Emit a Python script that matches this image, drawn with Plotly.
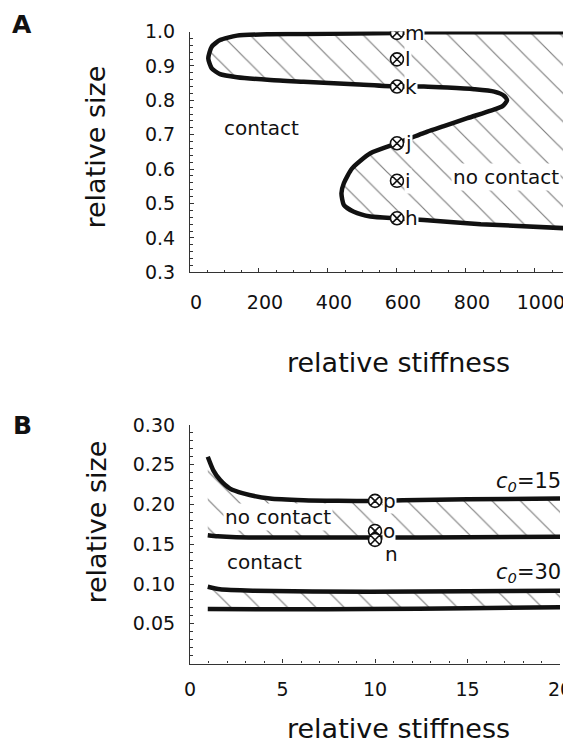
import plotly.graph_objects as go

# ---------------- Panel A data ----------------
stiff_A = [1090, 900, 688, 600, 475, 329, 233, 136, 87, 63, 53, 63, 87, 136, 233, 329, 475, 600,
           678, 746, 824, 882, 911, 919, 906, 872, 804, 736, 688, 600, 523, 470, 446, 439, 446,
           475, 523, 600, 678, 843, 1090]
size_A = [0.998, 0.998, 0.998, 0.996, 0.994, 0.993, 0.992, 0.988, 0.975, 0.956, 0.922, 0.893,
          0.876, 0.867, 0.859, 0.854, 0.847, 0.840, 0.840, 0.837, 0.832, 0.825, 0.8125, 0.800,
          0.783, 0.770, 0.748, 0.725, 0.709, 0.675, 0.646, 0.602, 0.559, 0.530, 0.496, 0.476,
          0.462, 0.457, 0.452, 0.440, 0.428]
pts_A_x = [600, 600, 600, 600, 600, 600]
pts_A_y = [0.996, 0.919, 0.840, 0.675, 0.566, 0.457]
pts_A_lbl = ["m", "l", "k", "j", "i", "h"]

# ---------------- Panel B data ----------------
b15_up_x = [0.96, 1.26, 1.62, 2.16, 2.88, 4.32, 6.13, 8.0, 10.0, 11.5, 15.0, 20.0]
b15_up_y = [0.260, 0.243, 0.231, 0.220, 0.214, 0.2075, 0.2054, 0.2047, 0.2045, 0.2054, 0.2065, 0.2075]
b15_lo_x = [0.96, 1.5, 2.5, 5.0, 10.0, 15.0, 20.0]
b15_lo_y = [0.1614, 0.1600, 0.1588, 0.1585, 0.1585, 0.1588, 0.1593]
b30_up_x = [0.96, 1.62, 3.4, 9.7, 15.0, 20.0]
b30_up_y = [0.0965, 0.0933, 0.0916, 0.0902, 0.0908, 0.0915]
b30_lo_x = [0.96, 5.0, 9.7, 15.0, 20.0]
b30_lo_y = [0.0685, 0.0683, 0.0685, 0.0695, 0.0706]
pts_B_x = [10, 10, 10]
pts_B_y = [0.2045, 0.1667, 0.1555]
pts_B_lbl = ["p", "o", "n"]

FONT = "DejaVu Sans"
INK = "#111"
W, H = 571, 743
OFF = 8  # page body margin
hatch = dict(shape="\\", size=20, solidity=0.06, fgcolor="#000", bgcolor="rgba(255,255,255,0)")


def fx(xp):
    return (xp - OFF) / W


def fy(yp):
    return 1 - (yp - OFF) / H


fig = go.Figure()

# Panel A hatch + curve
fig.add_trace(go.Scatter(x=stiff_A, y=size_A, mode="lines", fill="toself",
                         fillcolor="rgba(255,255,255,0)", fillpattern=hatch,
                         line=dict(width=0, shape="spline", smoothing=0.6),
                         xaxis="x", yaxis="y", hoverinfo="skip", showlegend=False))
fig.add_trace(go.Scatter(x=stiff_A, y=size_A, mode="lines",
                         line=dict(color=INK, width=4.5, shape="spline", smoothing=0.6),
                         xaxis="x", yaxis="y", hoverinfo="skip", showlegend=False))
fig.add_trace(go.Scatter(x=pts_A_x, y=pts_A_y, mode="markers",
                         marker=dict(symbol="circle-x", size=13, color="white",
                                     line=dict(color=INK, width=1.6)),
                         xaxis="x", yaxis="y", hoverinfo="skip", showlegend=False))

# Panel B hatch bands
fig.add_trace(go.Scatter(x=b15_up_x + b15_lo_x[::-1], y=b15_up_y + b15_lo_y[::-1], mode="lines",
                         fill="toself", fillcolor="rgba(255,255,255,0)", fillpattern=hatch,
                         line=dict(width=0), xaxis="x2", yaxis="y2", hoverinfo="skip", showlegend=False))
fig.add_trace(go.Scatter(x=b30_up_x + b30_lo_x[::-1], y=b30_up_y + b30_lo_y[::-1], mode="lines",
                         fill="toself", fillcolor="rgba(255,255,255,0)", fillpattern=hatch,
                         line=dict(width=0), xaxis="x2", yaxis="y2", hoverinfo="skip", showlegend=False))
for xs, ys in [(b15_up_x, b15_up_y), (b15_lo_x, b15_lo_y), (b30_up_x, b30_up_y), (b30_lo_x, b30_lo_y)]:
    fig.add_trace(go.Scatter(x=xs, y=ys, mode="lines",
                             line=dict(color=INK, width=4.5, shape="spline", smoothing=0.6),
                             xaxis="x2", yaxis="y2", hoverinfo="skip", showlegend=False))
fig.add_trace(go.Scatter(x=pts_B_x, y=pts_B_y, mode="markers",
                         marker=dict(symbol="circle-x", size=13, color="white",
                                     line=dict(color=INK, width=1.6)),
                         xaxis="x2", yaxis="y2", hoverinfo="skip", showlegend=False))

ann = []


def lab(x, y, t, xref, yref, size=20, **kw):
    d = dict(x=x, y=y, text=t, xref=xref, yref=yref, showarrow=False,
             xanchor="center", yanchor="middle",
             font=dict(family=FONT, size=size, color=INK))
    d.update(kw)
    ann.append(d)


# marker labels
for x, y, t in zip(pts_A_x, pts_A_y, pts_A_lbl):
    lab(x, y, t, "x", "y", xanchor="left", xshift=7, bgcolor="white", borderpad=0)
lab(pts_B_x[0], pts_B_y[0], "p", "x2", "y2", xanchor="left", xshift=7, bgcolor="white", borderpad=0)
lab(pts_B_x[1], pts_B_y[1], "o", "x2", "y2", xanchor="left", xshift=7, bgcolor="white", borderpad=0)
lab(pts_B_x[2], pts_B_y[2], "n", "x2", "y2", xanchor="left", xshift=8, yshift=-14)

# region labels
lab(208, 0.719, "contact", "x", "y")
lab(916, 0.578, "no contact", "x", "y", bgcolor="white", borderpad=1)
lab(4.77, 0.1845, "no contact", "x2", "y2", bgcolor="white", borderpad=1)
lab(4.05, 0.128, "contact", "x2", "y2")
lab(20, 0.228, "<i>c</i><sub><i>0</i></sub>=15", "x2", "y2", size=21, xanchor="right", xshift=3)
lab(20, 0.1133, "<i>c</i><sub><i>0</i></sub>=30", "x2", "y2", size=21, xanchor="right", xshift=3)

# axis titles & panel letters
lab(fx(398), fy(362), "relative stiffness", "paper", "paper", size=27)
lab(fx(398), fy(728), "relative stiffness", "paper", "paper", size=27)
lab(fx(95), fy(147.5), "relative size", "paper", "paper", size=27, textangle=-90)
lab(fx(96), fy(522.5), "relative size", "paper", "paper", size=27, textangle=-90)
lab(fx(22), fy(24), "<b>A</b>", "paper", "paper", size=25)
lab(fx(22), fy(425), "<b>B</b>", "paper", "paper", size=25)

axis_common = dict(showline=True, linecolor="#333", linewidth=1.2, ticks="inside", ticklen=4,
                   tickwidth=1.2, tickcolor="#333", showgrid=False, zeroline=False,
                   automargin=False, tickfont=dict(family=FONT, size=19, color=INK))

fig.update_layout(
    width=W, height=H, margin=dict(l=0, r=0, t=0, b=0, pad=0, autoexpand=False),
    paper_bgcolor="white", plot_bgcolor="white", showlegend=False,
    xaxis=dict(domain=[fx(190), fx(566)], range=[0, 1090], anchor="y", tick0=0, dtick=200,
               minor=dict(dtick=50, ticks="inside", ticklen=2.5, tickcolor="#333"),
               ticklabelshift=6, ticklabelstandoff=13, **axis_common),
    yaxis=dict(domain=[fy(272.3), fy(31.5)], range=[0.3, 1.0], anchor="x",
               tick0=0.3, dtick=0.1, tickformat=".1f",
               minor=dict(dtick=0.02, ticks="inside", ticklen=2.5, tickcolor="#333"),
               ticklabelstandoff=10, **axis_common),
    xaxis2=dict(domain=[fx(190), fx(560)], range=[0, 20], anchor="y2", tick0=0, dtick=5,
                minor=dict(dtick=1, ticks="inside", ticklen=2.5, tickcolor="#333"),
                ticklabelstandoff=9, **axis_common),
    yaxis2=dict(domain=[fy(663.5), fy(425)], range=[0, 0.30], anchor="x2",
                tickvals=[0.05, 0.10, 0.15, 0.20, 0.25, 0.30], tickformat=".2f",
                minor=dict(dtick=0.01, ticks="inside", ticklen=2.5, tickcolor="#333"),
                ticklabelstandoff=10, **axis_common),
    annotations=ann,
)

fig.write_html("out.html")
